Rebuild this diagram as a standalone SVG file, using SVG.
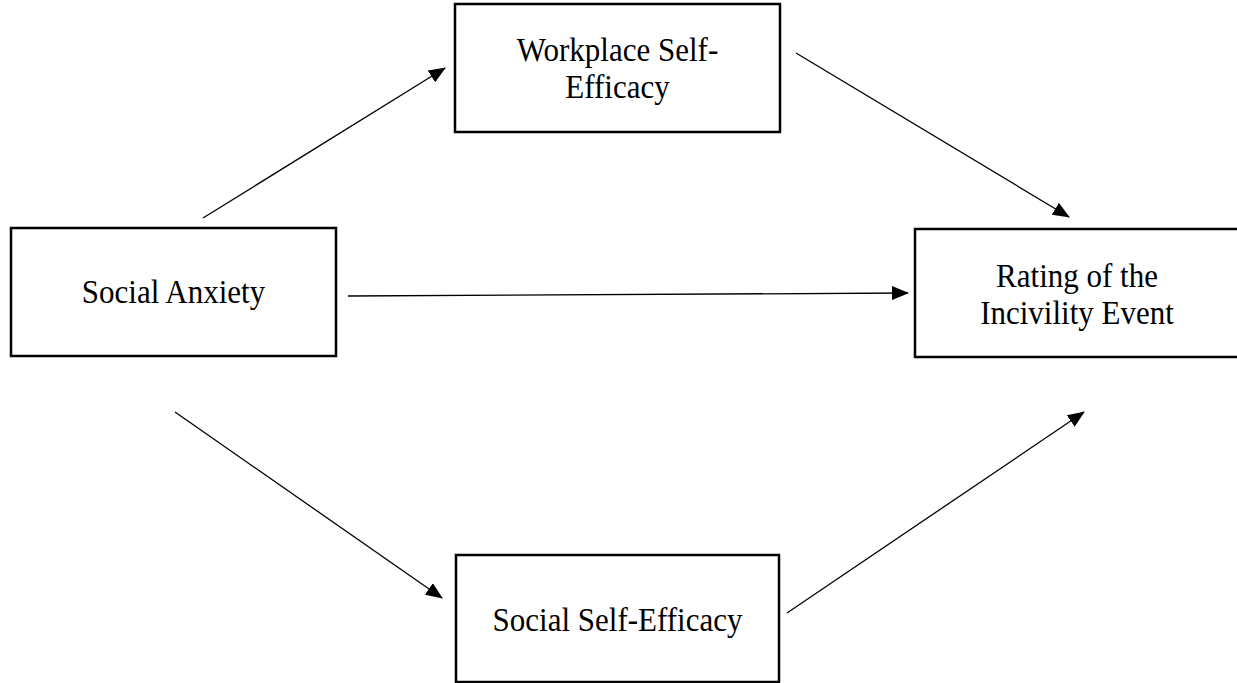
<svg xmlns="http://www.w3.org/2000/svg" width="1237" height="683" viewBox="0 0 1237 683">
<style>
.box{fill:#fff;stroke:#000;stroke-width:2.5}
.lbl{font-family:"Liberation Serif","Times New Roman",serif;font-size:31px;fill:#000;text-anchor:middle}
.conn{stroke:#000;stroke-width:1.3;fill:none;marker-end:url(#ah)}
</style>
<defs>
<marker id="ah" markerWidth="17" markerHeight="14" refX="16" refY="7" orient="auto" markerUnits="userSpaceOnUse">
<path d="M0,0 L17,7 L0,14 Z" fill="#000"/>
</marker>
</defs>
<rect width="1237" height="683" fill="#fff"/>
<g id="connectors">
<line class="conn" x1="203" y1="218" x2="445" y2="68"/>
<line class="conn" x1="796" y1="53" x2="1069" y2="217"/>
<line class="conn" x1="348" y1="296" x2="908" y2="293"/>
<line class="conn" x1="175" y1="412" x2="442" y2="598"/>
<line class="conn" x1="787" y1="613" x2="1084" y2="412"/>
</g>
<g id="workplace">
<rect class="box" x="455" y="4" width="325" height="128"/>
<text class="lbl" transform="translate(617.5,61) scale(1,1.1)">Workplace Self-</text>
<text class="lbl" transform="translate(617.5,98) scale(1,1.1)">Efficacy</text>
</g>
<g id="social-anxiety">
<rect class="box" x="11" y="228" width="325" height="128"/>
<text class="lbl" transform="translate(173.5,303) scale(1,1.1)">Social Anxiety</text>
</g>
<g id="rating">
<rect class="box" x="915" y="229" width="325" height="128"/>
<text class="lbl" transform="translate(1077,287) scale(1,1.1)">Rating of the</text>
<text class="lbl" transform="translate(1077,324) scale(1,1.1)">Incivility Event</text>
</g>
<g id="social-self-efficacy">
<rect class="box" x="456" y="555" width="323" height="127"/>
<text class="lbl" transform="translate(617.5,631) scale(1,1.1)">Social Self-Efficacy</text>
</g>
</svg>
